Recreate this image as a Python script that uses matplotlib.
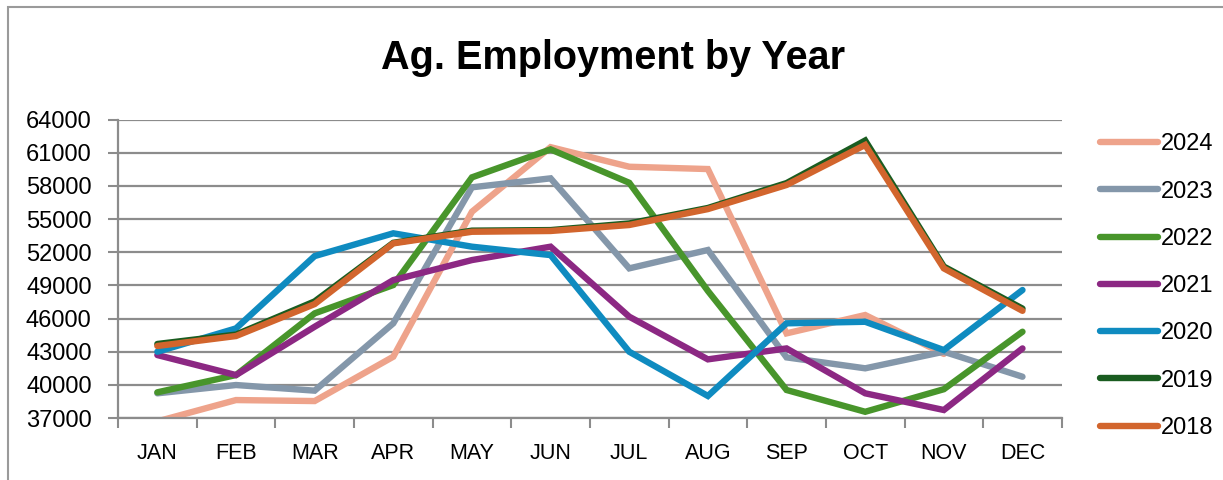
import numpy as np
import matplotlib.pyplot as plt
from matplotlib.patches import Rectangle

months = ["JAN", "FEB", "MAR", "APR", "MAY", "JUN", "JUL", "AUG", "SEP", "OCT", "NOV", "DEC"]
years = ["2024", "2023", "2022", "2021", "2020", "2019", "2018"]

emp_2024 = [36700, 38630, 38540, 42550, 55660, 61500, 59730, 59520, 44660, 46320, 42800, np.nan]
emp_2023 = [39240, 39990, 39480, 45570, 57870, 58680, 50540, 52200, 42490, 41500, 43000, 40740]
emp_2022 = [39330, 40890, 46470, 49030, 58770, 61300, 58280, 48500, 39540, 37570, 39610, 44810]
emp_2021 = [42700, 40890, 45260, 49480, 51290, 52500, 46170, 42310, 43300, 39240, 37730, 43300]
emp_2020 = [43000, 45110, 51650, 53710, 52500, 51740, 43000, 39000, 45570, 45710, 43150, 48580]
emp_2019 = [43700, 44550, 47550, 52850, 53950, 54000, 54600, 56000, 58250, 62100, 50700, 46900]
emp_2018 = [43520, 44420, 47310, 52800, 53850, 53920, 54460, 55900, 58080, 61700, 50540, 46700]

series = [emp_2024, emp_2023, emp_2022, emp_2021, emp_2020, emp_2019, emp_2018]
colors = ["#EEA38B", "#8497AA", "#48952B", "#8C2883", "#0F8BC0", "#1A5C20", "#D2652D"]

yticks = [37000, 40000, 43000, 46000, 49000, 52000, 55000, 58000, 61000, 64000]

plt.rcParams["font.family"] = ["Liberation Sans", "DejaVu Sans"]

fig = plt.figure(figsize=(12.23, 4.8), dpi=100)
ax = fig.add_axes([0.0965, 0.129, 0.7717, 0.622])

x = np.arange(len(months))
for vals, year, col in zip(series, years, colors):
    ax.plot(x, vals, color=col, linewidth=4.6, label=year, solid_capstyle="round",
            solid_joinstyle="miter")

ax.set_xlim(-0.5, 11.5)
ax.set_ylim(37000, 64000)
ax.set_yticks(yticks)
ax.set_yticklabels([str(v) for v in yticks], fontsize=17)
ax.set_xticks(x)
ax.set_xticklabels(months, fontsize=15.5)
ax.set_xticks(np.arange(-0.5, 12, 1), minor=True)
ax.tick_params(axis="x", which="major", length=0, pad=18)
ax.tick_params(axis="x", which="minor", length=7, width=1.5, color="#8c8c8c")
ax.tick_params(axis="y", length=7, width=1.5, color="#8c8c8c", pad=12)
ax.grid(axis="y", color="#8c8c8c", linewidth=1.6)
ax.set_axisbelow(True)
for s in ["top", "right"]:
    ax.spines[s].set_visible(False)
for s in ["left", "bottom"]:
    ax.spines[s].set_color("#8c8c8c")
    ax.spines[s].set_linewidth(1.6)

fig.text(0.5016, 0.879, "Ag. Employment by Year", ha="center", va="center",
         fontsize=28.5, fontweight="bold",
         family=["Liberation Sans Narrow", "Liberation Sans", "DejaVu Sans"])

leg = fig.legend(loc="upper left", bbox_to_anchor=(0.892, 0.742), frameon=False,
                 fontsize=17, handlelength=2.46, handletextpad=0.12, labelspacing=1.07,
                 borderaxespad=0)

fig.patches.append(Rectangle((8 / 1223, -0.1), 1.2, (480 - 7) / 480 + 0.1,
                             transform=fig.transFigure, fill=False,
                             edgecolor="#9a9a9a", linewidth=1.5))

fig.savefig("out.png", dpi=100)
plt.close()
